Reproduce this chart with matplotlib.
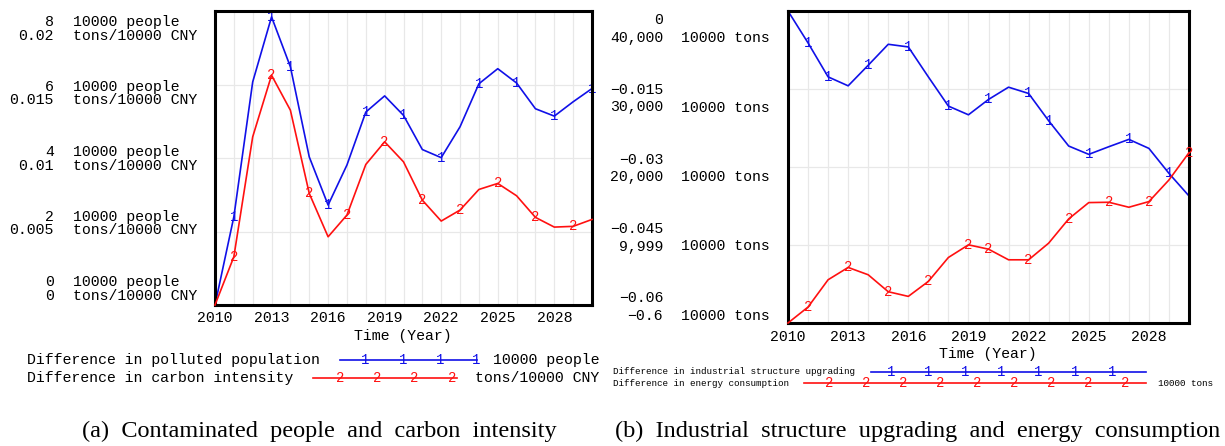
import matplotlib
matplotlib.use("Agg")
import matplotlib.pyplot as plt
from matplotlib.lines import Line2D

# ---------------- data ----------------
years = list(range(2010, 2031))

# (a) left panel
polluted_population = [0.0, 2.40, 6.07, 7.84, 6.48, 4.03, 2.72, 3.81, 5.25, 5.69, 5.16,
                       4.23, 4.01, 4.85, 6.02, 6.43, 6.04, 5.34, 5.14, 5.53, 5.89]
carbon_intensity = [0.0, 0.00328, 0.01144, 0.01563, 0.01325, 0.00759, 0.00464, 0.00612,
                    0.00956, 0.0111, 0.00974, 0.00713, 0.00571, 0.00646, 0.00786, 0.00827,
                    0.00743, 0.00596, 0.0053, 0.00535, 0.00582]
pop_marker_years = [2011, 2013, 2014, 2016, 2018, 2020, 2022, 2024, 2026, 2028, 2030]
ci_marker_years = [2011, 2013, 2015, 2017, 2019, 2021, 2023, 2025, 2027, 2029]

# (b) right panel
industrial_upgrading = [0.0, -0.00614, -0.01267, -0.01439, -0.01043, -0.0064, -0.00691,
                        -0.01267, -0.01829, -0.01996, -0.01701, -0.01465, -0.01586,
                        -0.02111, -0.02597, -0.02757, -0.0261, -0.02469, -0.02642,
                        -0.03122, -0.03557]
energy_consumption = [0, 2047, 5544, 7122, 6183, 4009, 3412, 5330, 8401, 10021, 9467,
                      8102, 8102, 10235, 13348, 15437, 15480, 14840, 15565, 18337, 21834]
ind_marker_years = [2011, 2012, 2014, 2016, 2018, 2020, 2022, 2023, 2025, 2027, 2029]
en_marker_years = [2011, 2013, 2015, 2017, 2019, 2020, 2022, 2024, 2026, 2028, 2030]

x_ticks = [2010, 2013, 2016, 2019, 2022, 2025, 2028]

left_num1 = ["8", "6", "4", "2", "0"]
left_num2 = ["0.02", "0.015", "0.01", "0.005", "0"]
right_num1 = ["0", "\u22120.015", "\u22120.03", "\u22120.045", "\u22120.06"]
right_num2 = ["40,000", "30,000", "20,000", "9,999", "\u22120.6"]

# ---------------- style ----------------
W, H = 1225, 446
MONO = "Liberation Mono"
SERIF = "Liberation Serif"
BLUE = "#1010e8"
RED = "#ff1010"
GRID = "#e8e8e8"
FS = 10.7
MFS = 10

fig = plt.figure(figsize=(W / 100, H / 100), dpi=100)


def fx(px):
    return px / W


def fy(py):
    return 1 - py / H


def make_axes(x0, x1, y0, y1):
    ax = fig.add_axes([fx(x0), fy(y1), fx(x1) - fx(x0), fy(y0) - fy(y1)])
    ax.set_xlim(2010, 2030)
    ax.set_xticks(years, minor=False)
    ax.set_xticklabels([])
    ax.tick_params(length=0, labelleft=False, labelbottom=False)
    ax.grid(True, color=GRID, linewidth=0.9)
    ax.set_axisbelow(True)
    for s in ax.spines.values():
        s.set_linewidth(2.2)
        s.set_color("black")
        s.set_zorder(10)
    return ax


def draw_series(ax, xs, ys, mark_years, color, label):
    ax.plot(xs, ys, color=color, linewidth=1.2, zorder=3, clip_on=False)
    for yr in mark_years:
        i = xs.index(yr)
        ax.text(xs[i], ys[i], label, color=color, fontsize=MFS, family=MONO,
                ha="center", va="center", zorder=4, clip_on=False)


# ---------- panel (a) ----------
axL = make_axes(215, 592, 11, 305)
axL.set_ylim(0, 8)
axL.set_yticks([0, 2, 4, 6, 8])
axL2 = axL.twinx()
axL2.set_ylim(0, 0.02)
axL2.set_yticks([])
axL2.set_axis_off()
draw_series(axL, years, polluted_population, pop_marker_years, BLUE, "1")
draw_series(axL2, years, carbon_intensity, ci_marker_years, RED, "2")

for i in range(5):
    yA = 22 + i * 65
    yB = yA + 13.5
    fig.text(fx(54), fy(yA), left_num1[i], ha="right", va="center", family=MONO, fontsize=FS)
    fig.text(fx(54), fy(yB), left_num2[i], ha="right", va="center", family=MONO, fontsize=FS)
    fig.text(fx(73), fy(yA), "10000 people", ha="left", va="center", family=MONO, fontsize=FS)
    fig.text(fx(73), fy(yB), "tons/10000 CNY", ha="left", va="center", family=MONO, fontsize=FS)

for t in x_ticks:
    xp = 215 + (t - 2010) / 20 * (592 - 215)
    fig.text(fx(xp), fy(318), str(t), ha="center", va="center", family=MONO, fontsize=FS)
fig.text(fx(403), fy(336), "Time (Year)", ha="center", va="center", family=MONO, fontsize=FS)

# legend (a)
fig.text(fx(27), fy(360), "Difference in polluted population", ha="left", va="center",
         family=MONO, fontsize=FS)
fig.add_artist(Line2D([fx(340), fx(477)], [fy(360), fy(360)], color=BLUE, lw=1.2,
                      transform=fig.transFigure))
for xm in [365, 403, 440, 476]:
    fig.text(fx(xm), fy(360), "1", color=BLUE, ha="center", va="center", family=MONO, fontsize=MFS)
fig.text(fx(493), fy(360), "10000 people", ha="left", va="center", family=MONO, fontsize=FS)

fig.text(fx(27), fy(378), "Difference in carbon intensity", ha="left", va="center",
         family=MONO, fontsize=FS)
fig.add_artist(Line2D([fx(313), fx(457)], [fy(378), fy(378)], color=RED, lw=1.2,
                      transform=fig.transFigure))
for xm in [340, 377, 414, 452]:
    fig.text(fx(xm), fy(378), "2", color=RED, ha="center", va="center", family=MONO, fontsize=MFS)
fig.text(fx(475), fy(378), "tons/10000 CNY", ha="left", va="center", family=MONO, fontsize=FS)

fig.text(fx(319), fy(431), "(a)  Contaminated  people  and  carbon  intensity",
         ha="center", va="center", family=SERIF, fontsize=17.5)

# ---------- panel (b) ----------
axR = make_axes(788, 1189, 11, 323)
axR.set_ylim(-0.06, 0)
axR.set_yticks([-0.06, -0.045, -0.03, -0.015, 0])
axR2 = axR.twinx()
axR2.set_ylim(-0.6, 40000)
axR2.set_axis_off()
draw_series(axR, years, industrial_upgrading, ind_marker_years, BLUE, "1")
draw_series(axR2, years, energy_consumption, en_marker_years, RED, "2")

for i in range(5):
    yB = 38 + i * 69.5
    yA = yB - 17.5
    fig.text(fx(663), fy(yA), right_num1[i], ha="right", va="center", family=MONO, fontsize=FS)
    fig.text(fx(663), fy(yB), right_num2[i], ha="right", va="center", family=MONO, fontsize=FS)
    fig.text(fx(681), fy(yB), "10000 tons", ha="left", va="center", family=MONO, fontsize=FS)

for t in x_ticks:
    xp = 788 + (t - 2010) / 20 * (1189 - 788)
    fig.text(fx(xp), fy(337), str(t), ha="center", va="center", family=MONO, fontsize=FS)
fig.text(fx(988), fy(354), "Time (Year)", ha="center", va="center", family=MONO, fontsize=FS)

FS2 = 6.7
fig.text(fx(613), fy(372), "Difference in industrial structure upgrading", ha="left",
         va="center", family=MONO, fontsize=FS2)
fig.add_artist(Line2D([fx(871), fx(1146)], [fy(372), fy(372)], color=BLUE, lw=1.2,
                      transform=fig.transFigure))
for xm in [891, 928, 965, 1001, 1038, 1075, 1112]:
    fig.text(fx(xm), fy(372), "1", color=BLUE, ha="center", va="center", family=MONO, fontsize=MFS)

fig.text(fx(613), fy(383), "Difference in energy consumption", ha="left",
         va="center", family=MONO, fontsize=FS2)
fig.add_artist(Line2D([fx(804), fx(1146)], [fy(383), fy(383)], color=RED, lw=1.2,
                      transform=fig.transFigure))
for xm in [829, 866, 903, 940, 977, 1014, 1051, 1088, 1125]:
    fig.text(fx(xm), fy(383), "2", color=RED, ha="center", va="center", family=MONO, fontsize=MFS)
fig.text(fx(1158), fy(383), "10000 tons", ha="left", va="center", family=MONO, fontsize=FS2)

fig.text(fx(918), fy(431), "(b)  Industrial  structure  upgrading  and  energy  consumption",
         ha="center", va="center", family=SERIF, fontsize=17.5)

fig.savefig("out.png", dpi=100)
